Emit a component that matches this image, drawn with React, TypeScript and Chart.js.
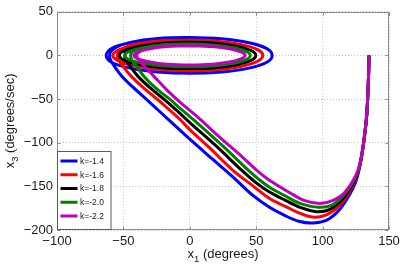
import React, { useEffect, useRef } from 'react';
import { Chart, registerables } from 'chart.js';

Chart.register(...registerables);

const seriesLabels = ['k=-1.4', 'k=-1.6', 'k=-1.8', 'k=-2.0', 'k=-2.2'];
const seriesColors = ['#0000ff', '#ff0000', '#000000', '#008000', '#bf00bf'];
const xTickValues = [-100, -50, 0, 50, 100, 150];
const yTickValues = [-200, -150, -100, -50, 0, 50];

const curveK14: [number, number][] = [
  [135, 0], [134.2, -40], [132.5, -80], [126, -140], [116, -170], [105, -187], [93, -192], [82, -190],
  [71, -183], [60, -174], [48, -161], [33, -140], [18, -120], [0, -96], [-15, -75], [-30, -54],
  [-43, -36], [-51, -24], [-56.5, -13], [-60, -4], [-60, 3], [-56, 9], [-45, 15], [-24, 19.5], [0, 20.5],
  [24, 19], [44.5, 14.5], [58, 7.8], [62, 0], [58, -7.8], [44.5, -14.5], [24, -19], [0, -20.5],
  [-24, -19], [-45, -14.5], [-59, -7.8], [-63, 0], [-59, 7.8], [-45, 14.5], [-24, 19], [0, 20.5], [24, 19],
];
const curveK16: [number, number][] = [
  [135, 0], [134.2, -40], [132.5, -80], [126.5, -135], [116, -166], [105, -181], [94, -185.5], [83, -181],
  [72, -173], [60, -164], [48, -150], [32, -131], [15, -106], [0, -85], [-7, -74], [-20, -56],
  [-35, -37], [-44, -24], [-50, -13], [-54, -4], [-54, 3], [-50, 8.5], [-40, 13], [-21, 16.8], [0, 17.5],
  [21, 16.3], [39, 12.4], [51, 6.7], [55, 0], [51, -6.7], [39, -12.4], [21, -16.3], [0, -17.5],
  [-21, -16.3], [-40, -12.4], [-53, -6.7], [-58, 0], [-53, 6.7], [-40, 12.4], [-21, 16.3], [0, 17.5], [21, 16.3],
];
const curveK18: [number, number][] = [
  [135, 0], [134.2, -40], [132.5, -80], [127, -132], [117, -161], [106, -176], [95.5, -179], [83, -174],
  [72, -166], [60, -156.5], [50, -146], [39, -131.5], [20, -104], [0, -77], [-7, -67], [-18, -52],
  [-30, -37], [-39, -24], [-44.5, -13], [-48.5, -4], [-48.5, 3], [-45, 7.5], [-36, 11], [-19, 14.3], [0, 15],
  [19, 14], [35, 10.6], [46, 5.7], [49.7, 0], [46, -5.7], [35, -10.6], [19, -14], [0, -15],
  [-20, -14], [-37, -10.6], [-49, -5.7], [-53, 0], [-49, 5.7], [-37, 10.6], [-20, 14], [0, 15], [19, 14],
];
const curveK20: [number, number][] = [
  [135, 0], [134.2, -40], [132.5, -80], [127, -131], [117, -158], [107, -171.5], [97, -174], [83, -169.5],
  [72, -161], [60, -151], [52, -142], [44, -131.5], [25, -104], [0, -70], [-7, -61], [-16, -49],
  [-26, -37], [-34, -25], [-39.5, -14], [-44, -4], [-44, 3], [-40, 6.8], [-32, 9.6], [-17, 12.4], [0, 13],
  [17, 12], [32, 9.2], [42, 5], [45.5, 0], [42, -5], [32, -9.2], [17, -12], [0, -13],
  [-18, -12], [-34, -9.2], [-45, -5], [-49, 0], [-45, 5], [-34, 9.2], [-18, 12], [0, 13], [17, 12],
];
const curveK22: [number, number][] = [
  [135, 0], [134.2, -40], [132.5, -80], [127, -130], [117, -156.5], [108, -166], [98, -169.5], [86, -166],
  [75, -157], [60, -143], [50, -131], [40, -117], [22, -93], [7, -72], [-7, -54], [-17, -40],
  [-27, -24], [-33, -14], [-38, -6], [-40, 0], [-38, 4], [-31, 7.8], [-17, 10.5], [0, 11],
  [17, 10.2], [30, 7.6], [38.5, 4], [41.7, 0], [38.5, -4], [30, -7.6], [17, -10.2], [0, -11],
  [-17, -10.2], [-30, -7.6], [-39, -4], [-42, 0], [-39, 4], [-30, 7.6], [-17, 10.2], [0, 11], [17, 10.2],
];
const curves = [curveK14, curveK16, curveK18, curveK20, curveK22];

const FONT = "'Liberation Sans', Arial, Helvetica, sans-serif";
const minus = (v: number) => String(v).replace('-', '\u2212');

const align = (p: number) => Math.round(p) + 0.5;

const decorPlugin = {
  id: 'decor',
  afterDraw(chart: any) {
    const { ctx, chartArea: a, scales } = chart;
    const xs = scales.x;
    const ys = scales.y;
    const L = align(a.left), R = align(a.right - 1), T = align(a.top), B = align(a.bottom - 1);
    ctx.save();
    ctx.strokeStyle = '#8a8a8a';
    ctx.lineWidth = 1;
    ctx.setLineDash([]);
    ctx.strokeRect(L, T, R - L, B - T);
    ctx.beginPath();
    xTickValues.forEach((v) => {
      const px = align(xs.getPixelForValue(v));
      ctx.moveTo(px, B); ctx.lineTo(px, B - 3);
      ctx.moveTo(px, T); ctx.lineTo(px, T + 3);
    });
    yTickValues.forEach((v) => {
      const py = align(ys.getPixelForValue(v));
      ctx.moveTo(L, py); ctx.lineTo(L + 3, py);
      ctx.moveTo(R, py); ctx.lineTo(R - 3, py);
    });
    ctx.stroke();

    ctx.fillStyle = '#1a1a1a';
    ctx.textBaseline = 'alphabetic';
    const drawTitle = (main: string, sub: string, rest: string, cx: number, baseY: number) => {
      ctx.font = `13px ${FONT}`;
      const w1 = ctx.measureText(main).width;
      const w3 = ctx.measureText(rest).width;
      ctx.font = `9.5px ${FONT}`;
      const w2 = ctx.measureText(sub).width;
      const total = w1 + w2 + w3;
      let x = cx - total / 2;
      ctx.textAlign = 'left';
      ctx.font = `13px ${FONT}`;
      ctx.fillText(main, x, baseY);
      x += w1;
      ctx.font = `9.5px ${FONT}`;
      ctx.fillText(sub, x, baseY + 4);
      x += w2;
      ctx.font = `13px ${FONT}`;
      ctx.fillText(rest, x, baseY);
    };
    const cx = (a.left + a.right) / 2;
    drawTitle('x', '1', ' (degrees)', cx, 257.5);
    ctx.save();
    ctx.translate(14, (a.top + a.bottom) / 2);
    ctx.rotate(-Math.PI / 2);
    drawTitle('x', '3', ' (degrees/sec)', 0, 0);
    ctx.restore();

    const lx = L, ly = 151.5, lw = 111 - L, lh = B - ly;
    ctx.fillStyle = '#ffffff';
    ctx.fillRect(lx, ly, lw, lh);
    ctx.strokeStyle = '#5a5a5a';
    ctx.lineWidth = 1;
    ctx.strokeRect(lx, ly, lw, lh);
    ctx.font = `8.5px ${FONT}`;
    ctx.textBaseline = 'middle';
    ctx.textAlign = 'left';
    seriesLabels.forEach((lab, i) => {
      const y = 161 + i * 13.75;
      ctx.strokeStyle = seriesColors[i];
      ctx.lineWidth = 3;
      ctx.beginPath();
      ctx.moveTo(60.5, y);
      ctx.lineTo(77.5, y);
      ctx.stroke();
      ctx.fillStyle = '#1a1a1a';
      ctx.fillText(lab, 80, y + 0.5);
    });
    ctx.restore();
  },
};

export default function App() {
  const ref = useRef<HTMLCanvasElement | null>(null);
  useEffect(() => {
    if (!ref.current) return;
    const chart = new Chart(ref.current, {
      type: 'scatter',
      data: {
        datasets: curves.map((c, i) => ({
          label: seriesLabels[i],
          data: c.map(([x, y]) => ({ x, y })),
          showLine: true,
          borderColor: seriesColors[i],
          backgroundColor: seriesColors[i],
          borderWidth: 3,
          pointRadius: 0,
          pointHoverRadius: 0,
          tension: 0.35,
          fill: false,
          order: 4 - i,
        })),
      },
      options: {
        responsive: false,
        animation: false,
        devicePixelRatio: 1,
        layout: { padding: { left: 0, top: 10, right: 27, bottom: 0 } },
        plugins: { legend: { display: false }, tooltip: { enabled: false }, title: { display: false } },
        scales: {
          x: {
            type: 'linear',
            min: -100,
            max: 150,
            afterBuildTicks: (s: any) => { s.ticks = xTickValues.map((v) => ({ value: v })); },
            afterFit: (s: any) => { s.height = 39; },
            ticks: {
              callback: (v: any) => minus(v),
              font: { family: FONT, size: 13 },
              color: '#1a1a1a',
              padding: 4,
              maxRotation: 0,
              autoSkip: false,
            },
            grid: { color: '#c4c4c4', lineWidth: 1, drawTicks: false },
            border: { display: false, dash: [1, 2] },
          },
          y: {
            type: 'linear',
            min: -200,
            max: 50,
            afterBuildTicks: (s: any) => { s.ticks = yTickValues.map((v) => ({ value: v })); },
            afterFit: (s: any) => { s.width = 57; },
            ticks: {
              callback: (v: any) => minus(v),
              font: { family: FONT, size: 13 },
              color: '#1a1a1a',
              padding: 4,
              autoSkip: false,
            },
            grid: { color: '#c4c4c4', lineWidth: 1, drawTicks: false },
            border: { display: false, dash: [1, 2] },
          },
        },
      },
      plugins: [decorPlugin],
    } as any);
    return () => chart.destroy();
  }, []);
  return (
    <div style={{ position: 'absolute', left: 0, top: 0, width: 416, height: 269, background: '#fff' }}>
      <canvas ref={ref} width={416} height={269} style={{ width: 416, height: 269, display: 'block' }} />
    </div>
  );
}
